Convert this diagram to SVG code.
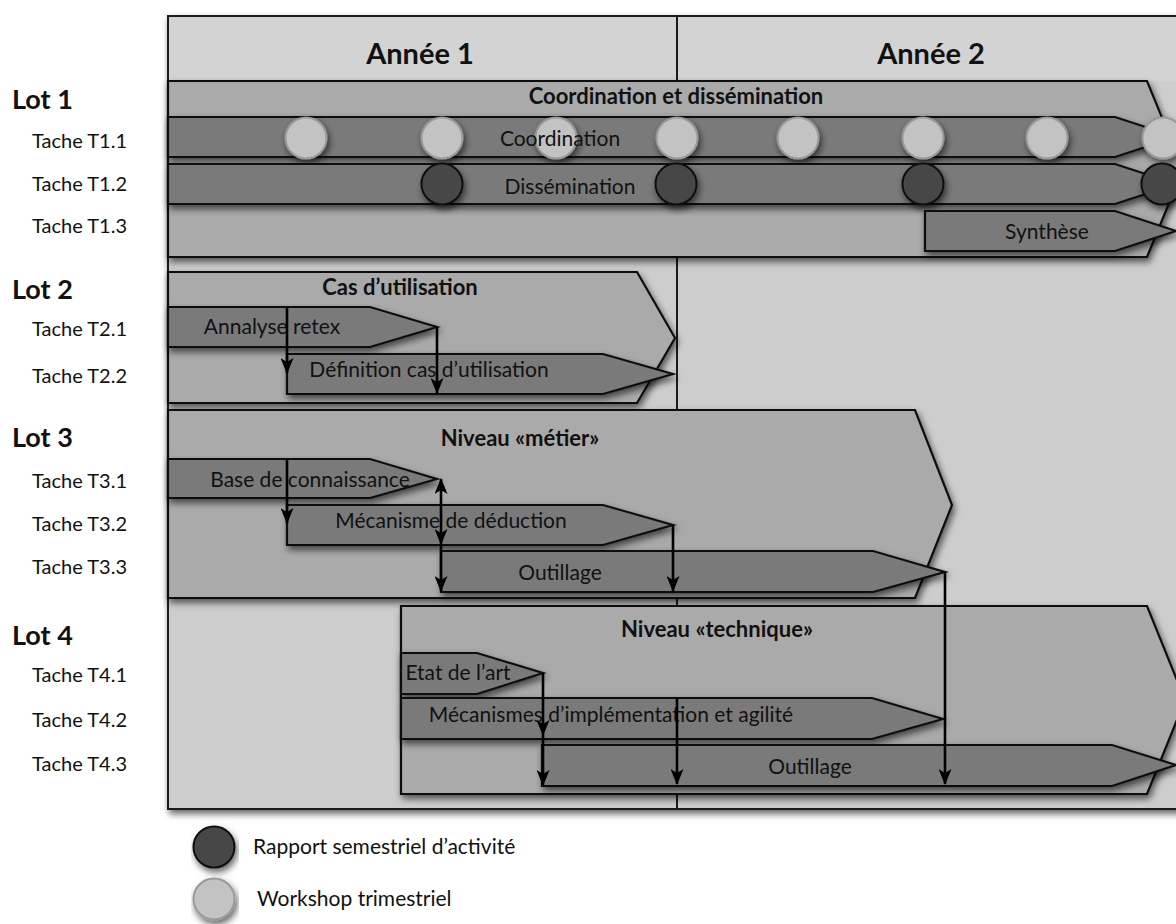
<svg xmlns="http://www.w3.org/2000/svg" width="1176" height="924" viewBox="0 0 1176 924">
  <defs>
    <style>
      text { font-family: Lato, "Open Sans", "Liberation Sans", sans-serif; fill: #111; }
      .year { font-size: 29px; font-weight: bold; text-anchor: middle; }
      .lot { font-size: 27px; font-weight: bold; }
      .task { font-size: 20px; }
      .title { font-size: 22px; font-weight: bold; text-anchor: middle; }
      .lbl { font-size: 21px; text-anchor: middle; }
      .legend { font-size: 21px; }
      .frame { fill: #cdcdcd; stroke: #1a1a1a; stroke-width: 2; }
      .lotbox { fill: #aaaaaa; stroke: #111; stroke-width: 2.2; stroke-linejoin: miter; }
      .bar { fill: #7a7a7a; stroke: #111; stroke-width: 2.2; stroke-linejoin: miter; }
      .ws { fill: #c3c3c3; stroke: #999; stroke-width: 2; }
      .rp { fill: #474747; stroke: #111; stroke-width: 2; }
      .link { fill: none; stroke: #000; stroke-width: 2.6; }
    </style>
    <filter id="shadow" x="-5%" y="-10%" width="115%" height="140%">
      <feDropShadow dx="2" dy="4" stdDeviation="3.5" flood-color="#000" flood-opacity="0.6"/>
    </filter>
    <marker id="arrow" viewBox="0 0 16 13" refX="15" refY="6.5" markerWidth="16" markerHeight="13" markerUnits="userSpaceOnUse" orient="auto-start-reverse">
      <path d="M0,0 L16,6.5 L0,13 L4,6.5 z" fill="#000"/>
    </marker>
  </defs>

  <rect width="1176" height="924" fill="#ffffff"/>

  <!-- Timeline frame with year header -->
  <g id="frame">
    <rect class="frame" x="168" y="16" width="1020" height="793" filter="url(#shadow)"/>
    <rect x="169" y="17" width="1007" height="64" fill="#d3d3d3"/>
    <line x1="677" y1="16" x2="677" y2="809" stroke="#1a1a1a" stroke-width="2"/>
    <text class="year" x="420" y="64">Année 1</text>
    <text class="year" x="931" y="64">Année 2</text>
  </g>

  <!-- Row labels -->
  <g id="row-labels">
    <text class="lot" x="12" y="109">Lot 1</text>
    <text class="task" x="32" y="148">Tache T1.1</text>
    <text class="task" x="32" y="191">Tache T1.2</text>
    <text class="task" x="32" y="233">Tache T1.3</text>
    <text class="lot" x="12" y="299">Lot 2</text>
    <text class="task" x="32" y="336">Tache T2.1</text>
    <text class="task" x="32" y="383">Tache T2.2</text>
    <text class="lot" x="12" y="447">Lot 3</text>
    <text class="task" x="32" y="488">Tache T3.1</text>
    <text class="task" x="32" y="531">Tache T3.2</text>
    <text class="task" x="32" y="574">Tache T3.3</text>
    <text class="lot" x="12" y="645">Lot 4</text>
    <text class="task" x="32" y="682">Tache T4.1</text>
    <text class="task" x="32" y="727">Tache T4.2</text>
    <text class="task" x="32" y="771">Tache T4.3</text>
  </g>

  <!-- Lot 1 -->
  <g id="lot1">
    <polygon class="lotbox" points="168,81 1147,81 1183,169 1147,257 168,257" filter="url(#shadow)"/>
    <text class="title" x="676" y="104">Coordination et dissémination</text>
  </g>
  <!-- T1.1 with its quarterly workshops -->
  <g id="t1-1">
    <polygon class="bar" points="168,117 1115,117 1176,137 1115,157 168,157" filter="url(#shadow)"/>
    <g id="workshops" filter="url(#shadow)">
      <circle class="ws" cx="306" cy="138" r="20.5"/>
      <circle class="ws" cx="442" cy="138" r="20.5"/>
      <circle class="ws" cx="556" cy="138" r="20.5"/>
      <circle class="ws" cx="677" cy="138" r="20.5"/>
      <circle class="ws" cx="798" cy="138" r="20.5"/>
      <circle class="ws" cx="923" cy="138" r="20.5"/>
      <circle class="ws" cx="1047" cy="138" r="20.5"/>
      <circle class="ws" cx="1163" cy="138" r="20.5"/>
    </g>
    <text class="lbl" x="560" y="146">Coordination</text>
  </g>
  <!-- T1.2 with its half-yearly reports -->
  <g id="t1-2">
    <polygon class="bar" points="168,164 1115,164 1176,184 1115,204 168,204" filter="url(#shadow)"/>
    <g id="reports" filter="url(#shadow)">
      <circle class="rp" cx="442" cy="184" r="20.5"/>
      <circle class="rp" cx="676" cy="184" r="20.5"/>
      <circle class="rp" cx="923" cy="184" r="20.5"/>
      <circle class="rp" cx="1162" cy="184" r="20.5"/>
    </g>
    <text class="lbl" x="570" y="194">Dissémination</text>
  </g>
  <g id="t1-3">
    <polygon class="bar" points="925,211 1115,211 1176,231 1115,251 925,251" filter="url(#shadow)"/>
    <text class="lbl" x="1047" y="239">Synthèse</text>
  </g>

  <!-- Lot 2 -->
  <g id="lot2">
    <polygon class="lotbox" points="168,272 637,272 675,338 637,403 168,403" filter="url(#shadow)"/>
    <text class="title" x="400" y="295">Cas d’utilisation</text>
  </g>
  <g id="t2-1">
    <polygon class="bar" points="168,307 370,307 437,327 370,347 168,347" filter="url(#shadow)"/>
    <text class="lbl" x="272" y="334">Annalyse retex</text>
  </g>
  <g id="t2-2">
    <polygon class="bar" points="287,354 603,354 673,374 603,394 287,394" filter="url(#shadow)"/>
    <text class="lbl" x="429" y="377">Définition cas d’utilisation</text>
  </g>

  <!-- Lot 3 -->
  <g id="lot3">
    <polygon class="lotbox" points="168,410 915,410 952,505 915,598 168,598" filter="url(#shadow)"/>
    <text class="title" x="520" y="446">Niveau «métier»</text>
  </g>
  <g id="t3-1">
    <polygon class="bar" points="168,459 370,459 437,479 370,498 168,498" filter="url(#shadow)"/>
    <text class="lbl" x="310" y="487">Base de connaissance</text>
  </g>
  <g id="t3-2">
    <polygon class="bar" points="287,505 603,505 673,525 603,545 287,545" filter="url(#shadow)"/>
    <text class="lbl" x="451" y="528">Mécanisme de déduction</text>
  </g>
  <g id="t3-3">
    <polygon class="bar" points="441,551 873,551 945,572 873,592 441,592" filter="url(#shadow)"/>
    <text class="lbl" x="560" y="580">Outillage</text>
  </g>

  <!-- Lot 4 -->
  <g id="lot4">
    <polygon class="lotbox" points="401,606 1147,606 1185,700 1147,794 401,794" filter="url(#shadow)"/>
    <text class="title" x="717" y="637">Niveau «technique»</text>
  </g>
  <g id="t4-1">
    <polygon class="bar" points="401,653 477,653 543,673 477,694 401,694" filter="url(#shadow)"/>
    <text class="lbl" x="458" y="680">Etat de l’art</text>
  </g>
  <g id="t4-2">
    <polygon class="bar" points="401,698 872,698 943,719 872,739 401,739" filter="url(#shadow)"/>
    <text class="lbl" x="611" y="722">Mécanismes d’implémentation et agilité</text>
  </g>
  <g id="t4-3">
    <polygon class="bar" points="542,745 1112,745 1176,765 1112,786 542,786" filter="url(#shadow)"/>
    <text class="lbl" x="810" y="774">Outillage</text>
  </g>

  <!-- Dependencies between tasks -->
  <g id="connectors">
    <line class="link" x1="287" y1="307" x2="287" y2="373" marker-end="url(#arrow)"/>
    <line class="link" x1="437" y1="327" x2="437" y2="393" marker-end="url(#arrow)"/>
    <line class="link" x1="287" y1="459" x2="287" y2="523" marker-end="url(#arrow)"/>
    <line class="link" x1="441" y1="479" x2="441" y2="544" marker-start="url(#arrow)" marker-end="url(#arrow)"/>
    <line class="link" x1="441" y1="544" x2="441" y2="591" marker-end="url(#arrow)"/>
    <line class="link" x1="673" y1="525" x2="673" y2="591" marker-end="url(#arrow)"/>
    <line class="link" x1="945" y1="572" x2="945" y2="784" marker-end="url(#arrow)"/>
    <line class="link" x1="543" y1="673" x2="543" y2="735" marker-end="url(#arrow)"/>
    <line class="link" x1="543" y1="735" x2="543" y2="785" marker-end="url(#arrow)"/>
    <line class="link" x1="677" y1="697" x2="677" y2="784" marker-end="url(#arrow)"/>
  </g>

  <!-- Legend -->
  <g id="legend">
    <circle class="rp" cx="214" cy="847" r="20.5" filter="url(#shadow)"/>
    <text class="legend" x="253" y="854">Rapport semestriel d’activité</text>
    <circle class="ws" cx="214" cy="899" r="20.5" filter="url(#shadow)"/>
    <text class="legend" x="257" y="906">Workshop trimestriel</text>
  </g>
</svg>
